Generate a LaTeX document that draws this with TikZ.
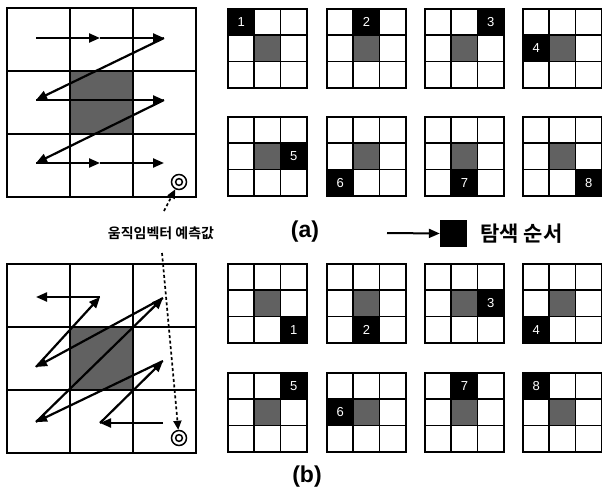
\documentclass[tikz,border=0pt]{standalone}
\usepackage{fontspec}
\setmainfont{Liberation Sans}
\newfontfamily\krfont{Noto Sans CJK KR Bold}
\usetikzlibrary{arrows.meta,positioning}
\tikzset{
  biggrid/.style={line width=1.8pt},
  sgrid/.style={line width=1.7pt},
  cellshade/.style={fill=black!62},
  walk/.style={line width=2.2pt,-{Triangle[length=11pt,width=9pt]}},
  guide/.style={line width=1.7pt,dash pattern=on 3pt off 2.5pt,-{Triangle[length=9pt,width=8pt]}},
  target/.style={circle,draw,line width=1.5pt,minimum size=15pt,inner sep=0pt,
    path picture={\draw[line width=1.5pt] (path picture bounding box.center) circle (3.4pt);}},
  num/.style={text=white,font=\fontsize{13}{13}\selectfont},
  tag/.style={font=\fontsize{23}{23}\selectfont\bfseries},
}
\begin{document}
\begin{tikzpicture}[x=1pt,y=-1pt]
\useasboundingbox (0,0) rectangle (602,495);

\fill[cellshade] (70,71) rectangle (133,134);
\draw[biggrid] (7,8) rectangle (196,197);
\draw[biggrid] (70,8) -- (70,197) (133,8) -- (133,197) (7,71) -- (196,71) (7,134) -- (196,134);

\fill[cellshade] (70,327) rectangle (133,390);
\draw[biggrid] (7,264) rectangle (196,453);
\draw[biggrid] (70,264) -- (70,453) (133,264) -- (133,453) (7,327) -- (196,327) (7,390) -- (196,390);

\coordinate (sa1) at (36,38);
\coordinate (sa2) at (100,38);
\coordinate (sa3) at (164,38);
\coordinate (sa4) at (36,100);
\coordinate (sa5) at (164,100);
\coordinate (sa6) at (36,163);
\coordinate (sa7) at (100,163);
\coordinate (sa8) at (164,163);
\draw[walk] (sa1) -- (sa2);
\draw[walk] (sa2) -- (sa3);
\draw[walk] (sa3) -- (sa4);
\draw[walk] (sa4) -- (sa5);
\draw[walk] (sa5) -- (sa6);
\draw[walk] (sa6) -- (sa7);
\draw[walk] (sa7) -- (sa8);

\coordinate (sb1) at (163,423);
\coordinate (sb2) at (100,423);
\coordinate (sb3) at (163,361);
\coordinate (sb4) at (36,422);
\coordinate (sb5) at (163,298);
\coordinate (sb6) at (36,367);
\coordinate (sb7) at (100,297);
\coordinate (sb8) at (36,297);
\draw[walk] (sb1) -- (sb2);
\draw[walk] (sb2) -- (sb3);
\draw[walk] (sb3) -- (sb4);
\draw[walk] (sb4) -- (sb5);
\draw[walk] (sb5) -- (sb6);
\draw[walk] (sb6) -- (sb7);
\draw[walk] (sb7) -- (sb8);

\node[target] (ta) at (179,182) {};
\node[target] (tb) at (179,438) {};
\node[inner sep=0pt,font=\krfont\fontsize{14}{14}\selectfont] (pred) at (161,233) {움직임벡터 예측값};
\coordinate (gtop) at (164,211);
\coordinate (gbot) at (162,253);
\draw[guide] (gtop) -- (ta);
\draw[guide] (gbot) -- (tb);

\foreach \gx/\gy/\c/\r/\n/\s in {228/9/0/0/1/a, 327/9/1/0/2/a, 425/9/2/0/3/a, 523/9/0/1/4/a,
    228/117/2/1/5/a, 327/117/0/2/6/a, 425/117/1/2/7/a, 523/117/2/2/8/a,
    228/264/2/2/1/b, 327/264/1/2/2/b, 425/264/2/1/3/b, 523/264/0/2/4/b,
    228/373/2/0/5/b, 327/373/0/1/6/b, 425/373/1/0/7/b, 523/373/0/0/8/b} {
  \fill[cellshade] ({\gx+26.3},{\gy+26.3}) rectangle +(26.3,26.3);
  \fill ({\gx+\c*26.3},{\gy+\r*26.3}) rectangle +(26.3,26.3);
  \node[num] (n\s\n) at ({\gx+\c*26.3+13.2},{\gy+\r*26.3+13.2}) {\n};
  \draw[sgrid] (\gx,\gy) rectangle +(78.9,78.9);
  \foreach \k in {1,2} {
    \draw[sgrid] ({\gx+\k*26.3},\gy) -- +(0,78.9);
    \draw[sgrid] (\gx,{\gy+\k*26.3}) -- +(78.9,0);
  }
}

\node[tag] (capa) at (305,232) {(a)};
\node[tag] (capb) at (307,477) {(b)};

\node[fill=black,minimum size=27pt,inner sep=0pt] (key) at (453.5,233.5) {};
\coordinate (keytail) at (387,233);
\draw[walk,line width=2pt] (keytail) -- (key.west);
\node[inner sep=0pt,right=13pt of key,font=\krfont\fontsize{21}{21}\selectfont] (keytxt) {탐색 순서};
\end{tikzpicture}
\end{document}
